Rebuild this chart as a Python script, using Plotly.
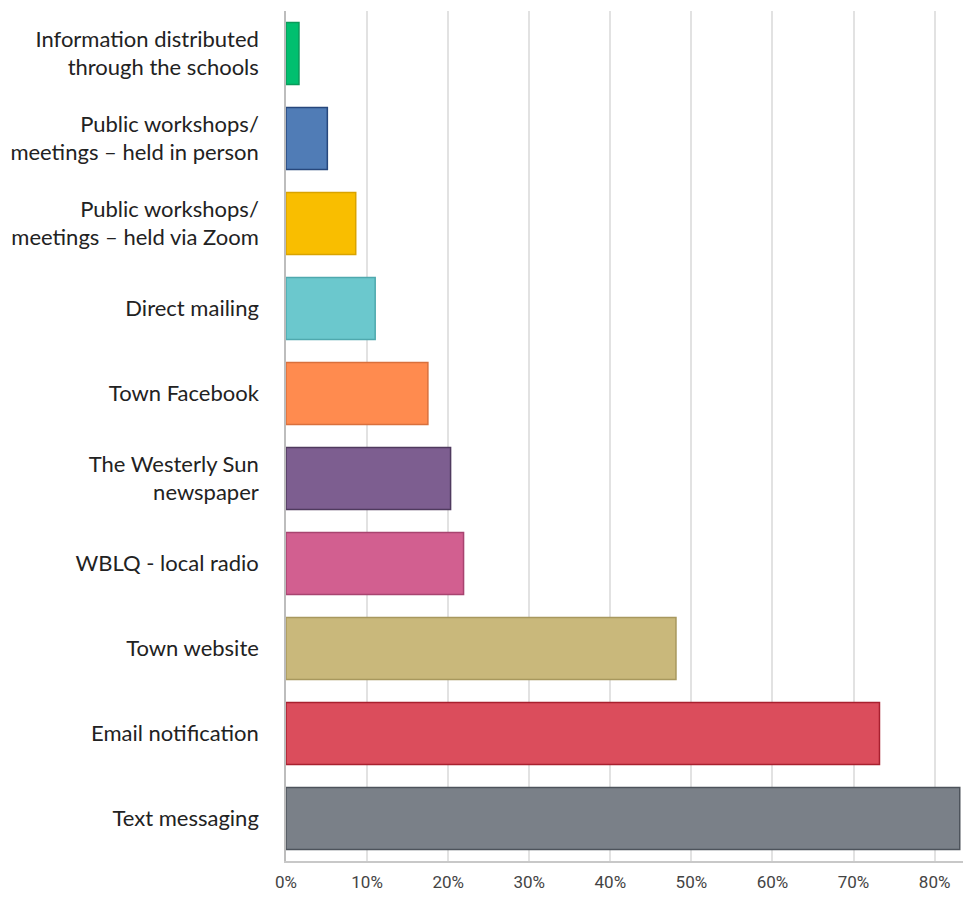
import plotly.graph_objects as go

categories = [
    "Information distributed<br>through the schools",
    "Public workshops/<br>meetings – held in person",
    "Public workshops/<br>meetings – held via Zoom",
    "Direct mailing",
    "Town Facebook",
    "The Westerly Sun<br>newspaper",
    "WBLQ - local radio",
    "Town website",
    "Email notification",
    "Text messaging",
]
values = [1.6, 5.1, 8.6, 11.0, 17.5, 20.3, 21.9, 48.1, 73.2, 83.1]
fill_colors = ["#00bf6f", "#507cb6", "#f9be00", "#6bc8cd", "#ff8b4f",
               "#7d5e90", "#d25f90", "#c9b87b", "#db4d5c", "#7a8088"]
line_colors = ["#0a9a5a", "#27477c", "#d9a300", "#4fa9ae", "#d9703c",
               "#4f3a5e", "#a84470", "#a8985e", "#a8202f", "#4d535b"]
tick_vals = [0, 10, 20, 30, 40, 50, 60, 70, 80]
tick_text = ["0%", "10%", "20%", "30%", "40%", "50%", "60%", "70%", "80%"]

fig = go.Figure(go.Bar(
    x=values, y=categories, orientation="h",
    marker=dict(color=fill_colors, line=dict(color=line_colors, width=1.5)),
    width=0.73,
))

fig.update_layout(
    width=967, height=890,
    margin=dict(l=278, r=12, t=3, b=37, autoexpand=False),
    paper_bgcolor="white", plot_bgcolor="white",
    showlegend=False,
    font=dict(family="Lato, sans-serif", size=22, color="#222"),
)
fig.update_xaxes(
    range=[0, 83.5], tickvals=tick_vals, ticktext=tick_text,
    showgrid=True, gridcolor="#e2e2e2", gridwidth=1.5,
    zeroline=False, showline=True, linecolor="#c8c8c8", linewidth=1.5,
    ticks="outside", ticklen=5, tickcolor="rgba(0,0,0,0)",
    tickfont=dict(family="Roboto, sans-serif", size=17, color="#444"),
    automargin=False,
)
fig.update_yaxes(
    autorange="reversed", showgrid=False,
    showline=True, linecolor="#bdbdbd", linewidth=1.5,
    ticks="outside", ticklen=21, tickcolor="rgba(0,0,0,0)",
    tickfont=dict(family="Lato, sans-serif", size=22, color="#222"),
    automargin=False,
)

fig.write_html("out.html")
